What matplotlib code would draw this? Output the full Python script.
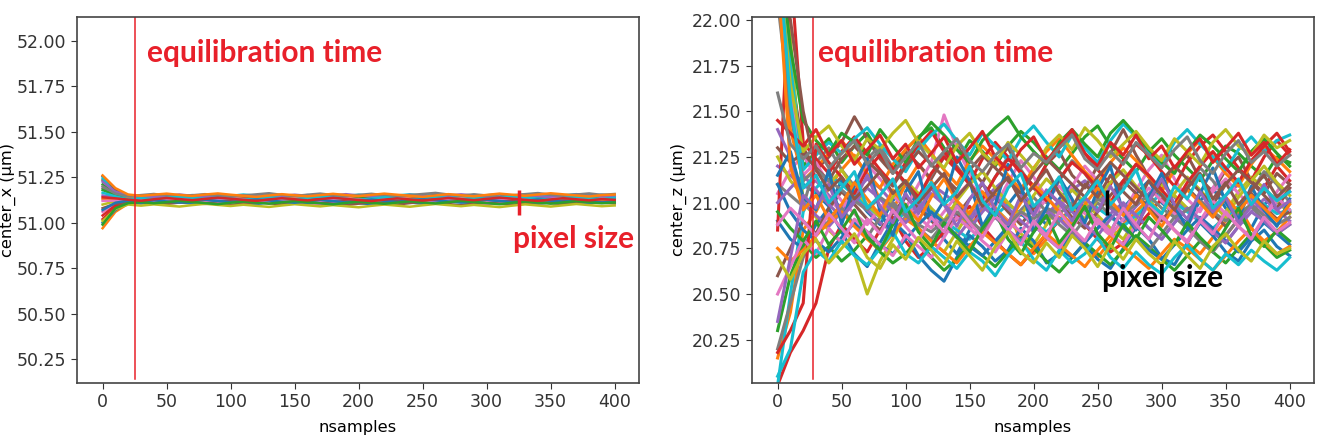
import numpy as np
import matplotlib.pyplot as plt

# walker traces read (roughly) every 10 samples from the reference
samples = np.arange(0, 401, 10)

# center_x: thousandths of a micron above 51.000
x_walkers = [
    [255, 180, 150, 142, 148, 153, 146, 140, 147, 152, 144, 139, 146, 151, 145, 138, 144, 150, 155, 147, 141, 148, 153, 146, 140, 147, 152, 145, 139, 146, 151, 157, 149, 142, 148, 153, 147, 141, 148, 154, 149],
    [-30, 60, 105, 118, 112, 120, 126, 119, 113, 121, 127, 120, 114, 108, 116, 123, 117, 111, 119, 125, 118, 112, 106, 114, 121, 116, 110, 117, 124, 118, 112, 107, 115, 122, 116, 110, 118, 124, 119, 113, 117],
    [210, 165, 140, 133, 127, 135, 141, 134, 128, 136, 142, 135, 129, 123, 131, 138, 132, 126, 134, 140, 133, 127, 135, 141, 136, 130, 124, 132, 139, 133, 127, 135, 142, 136, 130, 124, 132, 139, 134, 128, 135],
    [20, 85, 120, 126, 132, 125, 119, 127, 133, 126, 120, 114, 122, 129, 123, 117, 111, 119, 126, 120, 114, 121, 128, 122, 116, 110, 118, 125, 119, 113, 121, 128, 122, 116, 123, 130, 124, 118, 125, 131, 126],
    [150, 140, 136, 130, 124, 131, 137, 130, 124, 118, 126, 133, 127, 121, 128, 135, 129, 123, 117, 125, 132, 126, 120, 127, 134, 128, 122, 116, 124, 131, 125, 119, 126, 133, 127, 121, 115, 123, 130, 124, 128],
    [235, 175, 148, 141, 135, 143, 149, 142, 136, 130, 138, 145, 139, 133, 141, 148, 142, 136, 130, 138, 144, 138, 132, 140, 147, 141, 135, 129, 137, 144, 138, 132, 140, 146, 140, 134, 142, 149, 143, 137, 141],
    [60, 100, 115, 109, 116, 122, 115, 109, 103, 111, 118, 112, 106, 113, 119, 113, 107, 101, 109, 116, 110, 104, 112, 118, 112, 106, 113, 120, 114, 108, 102, 110, 117, 111, 105, 112, 119, 113, 107, 114, 110],
    [190, 155, 132, 138, 145, 138, 132, 140, 147, 141, 135, 129, 137, 144, 150, 143, 137, 131, 139, 146, 140, 134, 128, 136, 143, 137, 131, 139, 146, 152, 145, 139, 133, 141, 147, 141, 135, 143, 150, 144, 138],
    [100, 118, 127, 121, 115, 123, 129, 122, 116, 124, 131, 125, 119, 113, 121, 128, 122, 116, 124, 130, 124, 118, 112, 120, 127, 121, 115, 123, 129, 123, 117, 125, 132, 126, 120, 114, 122, 129, 123, 117, 121],
    [245, 160, 145, 150, 143, 137, 145, 152, 146, 140, 148, 155, 149, 143, 137, 145, 152, 146, 140, 148, 154, 148, 142, 150, 156, 150, 144, 138, 146, 153, 147, 141, 149, 155, 149, 143, 151, 157, 151, 145, 149],
    [0, 70, 112, 106, 113, 119, 112, 106, 114, 121, 115, 109, 103, 111, 118, 112, 106, 113, 120, 114, 108, 102, 110, 117, 111, 105, 112, 119, 113, 107, 115, 122, 116, 110, 104, 112, 119, 113, 107, 115, 111],
    [130, 128, 134, 128, 135, 141, 134, 128, 122, 130, 137, 131, 125, 133, 140, 134, 128, 122, 130, 137, 131, 125, 132, 139, 133, 127, 121, 129, 136, 130, 124, 132, 139, 133, 127, 134, 141, 135, 129, 123, 131],
    [180, 150, 125, 131, 137, 130, 124, 132, 139, 133, 127, 121, 129, 136, 130, 124, 131, 138, 132, 126, 134, 141, 135, 129, 123, 131, 138, 132, 126, 133, 140, 134, 128, 122, 130, 137, 131, 125, 133, 139, 134],
    [40, 95, 118, 124, 130, 123, 117, 125, 132, 126, 120, 127, 134, 128, 122, 116, 124, 131, 125, 119, 127, 133, 127, 121, 129, 136, 130, 124, 118, 126, 133, 127, 121, 128, 135, 129, 123, 117, 125, 132, 127],
    [225, 170, 152, 146, 140, 148, 155, 148, 142, 136, 144, 151, 145, 139, 147, 154, 148, 142, 150, 157, 150, 144, 138, 146, 153, 147, 141, 149, 156, 150, 144, 138, 146, 152, 146, 140, 148, 155, 149, 143, 147],
    [80, 105, 110, 116, 109, 103, 111, 117, 110, 104, 98, 106, 113, 107, 101, 109, 116, 110, 104, 97, 105, 112, 106, 100, 108, 115, 109, 103, 96, 104, 111, 105, 99, 107, 114, 108, 102, 110, 117, 111, 106],
    [120, 122, 130, 124, 118, 126, 133, 127, 120, 128, 135, 129, 123, 117, 125, 132, 126, 120, 127, 134, 128, 122, 129, 136, 130, 124, 118, 126, 133, 127, 121, 128, 135, 129, 123, 130, 137, 131, 125, 132, 128],
    [200, 160, 145, 152, 158, 150, 144, 151, 157, 149, 143, 150, 156, 162, 153, 147, 154, 160, 152, 146, 153, 159, 151, 145, 152, 158, 164, 155, 149, 156, 150, 144, 151, 157, 163, 154, 148, 155, 161, 153, 158],
    [10, 75, 100, 94, 101, 95, 89, 97, 104, 98, 92, 99, 93, 87, 95, 102, 96, 90, 97, 91, 85, 93, 100, 94, 88, 96, 103, 97, 91, 98, 92, 86, 94, 101, 95, 89, 96, 103, 97, 91, 95],
    [165, 145, 128, 135, 129, 136, 143, 137, 131, 138, 132, 126, 134, 141, 135, 129, 136, 143, 137, 131, 125, 133, 140, 134, 128, 135, 142, 136, 130, 137, 131, 138, 145, 139, 133, 127, 135, 142, 136, 130, 137],
    [70, 110, 122, 116, 123, 117, 111, 119, 126, 120, 114, 121, 128, 122, 116, 110, 118, 125, 119, 113, 120, 127, 121, 115, 122, 129, 123, 117, 111, 119, 126, 120, 114, 121, 128, 122, 116, 123, 117, 111, 118],
    [260, 190, 155, 148, 154, 160, 153, 147, 155, 161, 154, 148, 142, 150, 157, 151, 145, 152, 159, 152, 146, 153, 160, 154, 148, 142, 150, 157, 151, 145, 153, 160, 154, 148, 155, 162, 156, 150, 144, 152, 155],
    [-10, 80, 108, 114, 107, 113, 120, 114, 108, 102, 110, 117, 111, 105, 112, 119, 113, 107, 101, 109, 116, 110, 104, 111, 118, 112, 106, 113, 120, 114, 108, 102, 110, 117, 111, 105, 112, 119, 113, 107, 112],
    [140, 134, 127, 121, 129, 136, 130, 124, 131, 138, 132, 126, 120, 128, 135, 129, 123, 130, 137, 131, 125, 119, 127, 134, 128, 122, 129, 136, 130, 124, 131, 138, 132, 126, 120, 128, 135, 129, 123, 130, 126],
]

# center_z: hundredths of a micron above 20.00
z_walkers = [
    [230, 150, 110, 105, 98, 112, 104, 95, 88, 101, 110, 97, 92, 80, 72, 85, 96, 104, 99, 108, 95, 88, 102, 110, 96, 91, 84, 97, 105, 112, 100, 94, 89, 101, 108, 97, 92, 86, 99, 104, 95],
    [15, 40, 85, 95, 108, 118, 126, 115, 102, 96, 110, 121, 112, 100, 93, 87, 96, 105, 98, 78, 72, 80, 92, 84, 76, 70, 79, 88, 95, 102, 93, 85, 78, 72, 81, 90, 98, 86, 79, 84, 92],
    [240, 180, 120, 128, 135, 122, 131, 138, 126, 118, 129, 136, 141, 130, 122, 134, 128, 120, 131, 139, 133, 125, 118, 127, 136, 142, 131, 124, 117, 128, 135, 126, 119, 112, 123, 131, 127, 120, 114, 125, 122],
    [0, 18, 30, 45, 75, 88, 80, 73, 85, 92, 79, 70, 76, 84, 91, 98, 87, 79, 72, 66, 74, 83, 90, 97, 88, 80, 73, 78, 86, 94, 102, 95, 87, 80, 74, 82, 91, 99, 108, 120, 112],
    [120, 115, 108, 112, 104, 97, 106, 113, 108, 100, 94, 103, 110, 105, 99, 92, 101, 108, 114, 106, 98, 91, 99, 107, 112, 104, 97, 90, 98, 105, 111, 103, 96, 89, 97, 104, 110, 102, 95, 100, 106],
    [235, 170, 130, 118, 125, 133, 147, 135, 124, 116, 128, 121, 113, 125, 132, 119, 111, 123, 130, 117, 109, 121, 128, 115, 108, 120, 127, 140, 126, 114, 107, 119, 126, 113, 106, 118, 125, 112, 105, 116, 110],
    [105, 118, 126, 114, 102, 95, 108, 121, 113, 104, 97, 110, 122, 148, 130, 116, 105, 98, 111, 123, 114, 103, 96, 109, 120, 112, 101, 94, 107, 118, 126, 113, 102, 95, 108, 119, 111, 100, 93, 106, 115],
    [110, 104, 98, 122, 130, 118, 109, 124, 131, 119, 110, 103, 115, 127, 120, 111, 102, 114, 125, 118, 108, 100, 112, 123, 116, 106, 98, 110, 121, 114, 104, 96, 108, 119, 112, 102, 94, 106, 117, 110, 100],
    [245, 190, 100, 92, 85, 78, 72, 50, 68, 80, 93, 86, 79, 73, 84, 95, 103, 97, 90, 83, 77, 88, 99, 107, 100, 93, 86, 80, 91, 102, 110, 104, 97, 90, 84, 95, 106, 114, 108, 101, 94],
    [0, 50, 95, 108, 115, 110, 104, 98, 92, 88, 95, 101, 96, 90, 85, 80, 87, 93, 99, 94, 89, 84, 90, 96, 102, 97, 92, 87, 93, 99, 105, 100, 95, 90, 86, 92, 98, 104, 99, 94, 96],
    [90, 80, 75, 88, 97, 84, 72, 65, 78, 90, 83, 71, 63, 57, 70, 82, 76, 68, 74, 86, 79, 67, 72, 84, 77, 69, 64, 75, 87, 80, 70, 66, 78, 89, 82, 73, 68, 79, 85, 76, 71],
    [250, 140, 112, 119, 127, 134, 125, 116, 108, 121, 129, 136, 127, 118, 110, 123, 131, 124, 115, 107, 119, 128, 135, 126, 117, 110, 122, 130, 123, 114, 106, 118, 127, 134, 125, 116, 109, 121, 130, 124, 117],
    [30, 60, 78, 70, 76, 68, 74, 82, 73, 67, 72, 80, 70, 63, 69, 77, 71, 65, 73, 81, 75, 68, 62, 70, 78, 72, 66, 74, 82, 76, 69, 63, 71, 79, 73, 67, 75, 83, 77, 70, 74],
    [85, 230, 133, 124, 116, 128, 136, 127, 118, 110, 122, 131, 139, 128, 119, 111, 124, 133, 125, 116, 108, 121, 130, 138, 127, 118, 110, 123, 132, 126, 117, 109, 122, 131, 137, 128, 119, 112, 125, 134, 126],
    [140, 125, 100, 93, 87, 95, 102, 96, 89, 84, 92, 99, 94, 87, 81, 90, 98, 92, 85, 79, 88, 96, 91, 84, 78, 86, 94, 100, 93, 86, 80, 89, 97, 91, 84, 78, 87, 95, 102, 96, 90],
    [60, 75, 90, 83, 97, 106, 99, 91, 85, 94, 103, 97, 90, 84, 93, 102, 110, 103, 95, 88, 97, 106, 100, 92, 86, 95, 104, 112, 105, 97, 90, 99, 108, 101, 94, 87, 96, 105, 98, 91, 95],
    [225, 160, 115, 122, 110, 101, 94, 88, 97, 105, 99, 92, 86, 95, 104, 111, 103, 96, 90, 84, 93, 102, 109, 101, 94, 88, 82, 91, 100, 108, 101, 94, 88, 97, 106, 113, 105, 98, 92, 101, 108],
    [20, 45, 70, 82, 90, 97, 88, 81, 92, 100, 93, 86, 80, 89, 98, 91, 84, 78, 87, 96, 103, 95, 88, 82, 91, 100, 93, 86, 80, 74, 83, 92, 86, 79, 73, 82, 91, 98, 90, 83, 88],
    [125, 112, 104, 96, 110, 118, 107, 99, 92, 103, 112, 105, 97, 90, 101, 110, 117, 108, 100, 93, 104, 113, 106, 98, 91, 102, 111, 118, 109, 101, 94, 105, 114, 107, 99, 92, 103, 112, 120, 111, 104],
    [235, 175, 118, 126, 133, 127, 135, 141, 132, 124, 117, 129, 137, 143, 134, 126, 138, 131, 123, 135, 142, 133, 125, 137, 130, 122, 134, 143, 136, 128, 121, 133, 140, 132, 125, 118, 129, 136, 128, 134, 137],
    [110, 95, 85, 79, 73, 81, 89, 84, 77, 72, 80, 88, 95, 89, 82, 76, 71, 79, 87, 94, 88, 81, 75, 70, 78, 86, 93, 87, 80, 74, 69, 77, 85, 92, 86, 79, 73, 81, 89, 83, 77],
    [75, 68, 74, 82, 89, 95, 87, 80, 74, 83, 91, 86, 79, 73, 67, 76, 84, 78, 72, 66, 75, 83, 77, 71, 65, 74, 82, 76, 70, 64, 72, 80, 75, 69, 63, 71, 79, 86, 78, 72, 76],
    [245, 185, 145, 134, 127, 138, 133, 126, 140, 131, 122, 135, 144, 137, 129, 122, 134, 141, 147, 136, 128, 121, 133, 140, 132, 125, 138, 145, 137, 129, 122, 116, 128, 137, 131, 124, 117, 128, 135, 127, 120],
    [18, 30, 45, 132, 122, 114, 105, 118, 126, 119, 111, 103, 116, 125, 118, 110, 102, 114, 124, 117, 109, 101, 113, 122, 116, 108, 100, 112, 121, 115, 107, 99, 111, 120, 128, 119, 111, 123, 131, 138, 128],
    [100, 108, 115, 107, 99, 92, 100, 108, 102, 95, 89, 97, 105, 99, 92, 86, 95, 103, 97, 90, 84, 93, 101, 95, 88, 82, 91, 99, 93, 86, 80, 89, 97, 91, 84, 78, 87, 95, 90, 83, 88],
    [130, 122, 127, 119, 112, 124, 131, 123, 116, 109, 120, 128, 121, 114, 107, 118, 126, 119, 112, 105, 116, 124, 117, 110, 103, 114, 122, 115, 108, 101, 112, 120, 113, 106, 99, 110, 118, 111, 104, 97, 108],
    [50, 65, 80, 72, 86, 78, 91, 84, 77, 71, 82, 76, 70, 81, 92, 86, 79, 73, 84, 95, 88, 81, 75, 86, 97, 90, 83, 77, 88, 99, 92, 85, 79, 90, 101, 94, 87, 81, 92, 103, 96],
    [210, 150, 112, 118, 112, 107, 101, 96, 103, 98, 93, 88, 84, 90, 95, 89, 85, 92, 88, 95, 91, 97, 94, 100, 96, 102, 98, 94, 99, 104, 97, 92, 96, 101, 95, 90, 94, 99, 93, 88, 92],
    [238, 165, 128, 136, 142, 131, 123, 135, 129, 138, 145, 133, 126, 119, 131, 138, 127, 121, 133, 126, 118, 130, 137, 129, 141, 134, 125, 132, 139, 130, 123, 135, 128, 121, 133, 140, 131, 126, 137, 130, 134],
    [5, 20, 62, 74, 68, 79, 71, 66, 75, 84, 72, 67, 76, 70, 64, 73, 68, 60, 71, 79, 69, 63, 74, 67, 72, 81, 70, 64, 73, 66, 61, 70, 77, 69, 63, 72, 66, 74, 68, 63, 70],
    [115, 128, 103, 96, 118, 88, 110, 124, 95, 82, 106, 117, 90, 101, 125, 112, 87, 99, 121, 109, 84, 97, 114, 102, 89, 107, 120, 94, 85, 103, 116, 98, 86, 105, 119, 100, 91, 109, 96, 87, 102],
    [228, 120, 96, 104, 91, 99, 111, 102, 93, 107, 98, 90, 103, 113, 101, 94, 106, 97, 89, 100, 110, 103, 95, 88, 99, 108, 101, 93, 104, 96, 87, 98, 107, 100, 92, 103, 95, 104, 97, 90, 99],
    [95, 86, 79, 90, 77, 85, 96, 81, 74, 88, 99, 84, 76, 89, 81, 73, 86, 95, 80, 72, 84, 93, 78, 87, 98, 83, 75, 88, 80, 92, 85, 77, 89, 81, 74, 86, 97, 82, 76, 85, 79],
    [145, 138, 131, 140, 126, 134, 121, 129, 137, 124, 132, 119, 127, 136, 122, 130, 139, 125, 118, 129, 136, 123, 131, 140, 127, 120, 133, 126, 137, 124, 131, 119, 128, 135, 122, 130, 138, 126, 133, 121, 129],
    [35, 70, 104, 97, 110, 92, 101, 115, 98, 89, 105, 94, 108, 99, 87, 102, 111, 96, 88, 104, 93, 107, 100, 90, 103, 95, 109, 97, 86, 101, 113, 99, 91, 106, 95, 103, 89, 98, 110, 96, 101],
    [232, 200, 150, 118, 107, 114, 102, 109, 117, 105, 112, 100, 108, 116, 103, 111, 98, 106, 114, 101, 109, 118, 105, 97, 110, 103, 115, 106, 99, 112, 104, 96, 108, 116, 102, 111, 99, 107, 115, 103, 110],
    [88, 97, 90, 82, 94, 86, 78, 91, 83, 96, 87, 79, 92, 84, 98, 89, 81, 93, 85, 77, 90, 82, 95, 86, 79, 91, 84, 97, 88, 80, 93, 85, 78, 90, 83, 95, 87, 80, 92, 84, 89],
    [160, 132, 124, 131, 119, 127, 134, 121, 129, 116, 125, 133, 120, 128, 135, 123, 117, 126, 132, 119, 127, 122, 130, 137, 124, 118, 128, 121, 133, 126, 119, 129, 136, 123, 116, 127, 134, 122, 128, 120, 126],
    [70, 58, 72, 80, 67, 75, 83, 70, 64, 77, 69, 81, 74, 66, 79, 71, 63, 76, 84, 73, 67, 78, 70, 82, 75, 65, 77, 69, 80, 72, 66, 79, 71, 64, 76, 83, 74, 68, 79, 72, 75],
    [242, 155, 108, 115, 100, 108, 117, 97, 104, 113, 95, 102, 111, 99, 106, 120, 101, 93, 108, 116, 98, 105, 114, 96, 103, 112, 99, 107, 118, 100, 94, 109, 102, 115, 97, 104, 113, 99, 108, 101, 106],
]

x_base, x_scale = 51.0, 0.001
z_base, z_scale = 20.0, 0.01

equil_x, equil_z = 25, 28
pix_x_pos, pix_x_range = 325, (51.04, 51.18)
pix_z_pos, pix_z_range = 257, (20.93, 21.07)

red = '#e8202a'
plt.rcParams['font.size'] = 12.5
plt.rcParams['axes.edgecolor'] = '#444444'
plt.rcParams['axes.linewidth'] = 1.2
plt.rcParams['xtick.major.size'] = 4
plt.rcParams['ytick.major.size'] = 4
plt.rcParams['xtick.color'] = '#333333'
plt.rcParams['ytick.color'] = '#333333'

fig = plt.figure(figsize=(13.21, 4.44), dpi=100)
ax1 = fig.add_axes([77/1321, 61/444, 562/1321, 366/444])
ax2 = fig.add_axes([752/1321, 61/444, 562/1321, 366/444])

for w in x_walkers:
    ax1.plot(samples, x_base + x_scale*np.array(w), lw=1.8)
for w in z_walkers:
    ax2.plot(samples, z_base + z_scale*np.array(w), lw=2.2)

ax1.set_ylim(50.12, 52.13)
ax1.set_yticks(np.arange(50.25, 52.01, 0.25))
ax1.set_ylabel('center_x (µm)', fontsize=11.7, labelpad=1)
ax2.set_ylim(20.013, 22.016)
ax2.set_yticks(np.arange(20.25, 22.01, 0.25))
ax2.set_ylabel('center_z (µm)', fontsize=11.7)

for ax, t in ((ax1, equil_x), (ax2, equil_z)):
    ax.set_xlim(-20, 419)
    ax.set_xticks(np.arange(0, 401, 50))
    ax.set_xlabel('nsamples', fontsize=11.7, labelpad=6)
    ax.axvline(t, ymin=0.01, ymax=1, color=red, lw=1.1)
    ax.yaxis.set_major_formatter(plt.FormatStrFormatter('%.2f'))
    ax.text(0.125 if ax is ax1 else 0.117, 0.877, 'equilibration time', transform=ax.transAxes,
            color=red, fontsize=21.5, fontweight='bold', family='Lato')

ax1.vlines(pix_x_pos, *pix_x_range, color=red, lw=2.5)
ax1.text(0.776, 0.369, 'pixel size', transform=ax1.transAxes,
         color=red, fontsize=21.5, fontweight='bold', family='Lato')
ax2.vlines(pix_z_pos, *pix_z_range, color='black', lw=2.5)
ax2.text(0.623, 0.262, 'pixel size', transform=ax2.transAxes,
         color='black', fontsize=21.5, fontweight='bold', family='Lato')

plt.savefig('out.png', dpi=100)
